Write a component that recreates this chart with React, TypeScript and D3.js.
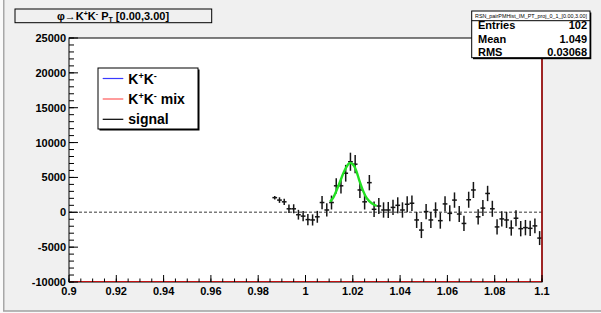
import React from "react";
import * as d3 from "d3";

// invariant mass bin centres (GeV/c^2), bin width 0.002
const mass = [
  0.987, 0.989, 0.991, 0.993, 0.995, 0.997, 0.999, 1.001, 1.003, 1.005,
  1.007, 1.009, 1.011, 1.013, 1.015, 1.017, 1.019, 1.021, 1.023, 1.025,
  1.027, 1.029, 1.031, 1.033, 1.035, 1.037, 1.039, 1.041, 1.043, 1.045,
  1.047, 1.049, 1.051, 1.053, 1.055, 1.057, 1.059, 1.061, 1.063, 1.065,
  1.067, 1.069, 1.071, 1.073, 1.075, 1.077, 1.079, 1.081, 1.083, 1.085,
  1.087, 1.089, 1.091, 1.093, 1.095, 1.097, 1.099,
];

// signal = same-event minus mixed-event
const signal = [
  2100, 1750, 1500, 500, 500, -350, -550, -1050, -1100, -650,
  1400, 330, 1400, 3800, 3800, 5600, 7250, 6900, 3200, 1500,
  4250, 430, 900, 330, 330, 700, 1000, 330, 1150, 1300,
  -1100, -2550, 100, -1100, 330, -1200, 1200, -150, 1750, -250,
  -1600, 1800, 3200, -650, 600, 2700, 500, -2100, -950, -1100,
  -2250, -850, -2350, -2200, -2300, -1950, -3700,
];

const signalErr = [
  250, 400, 450, 600, 650, 700, 750, 800, 800, 850,
  950, 950, 1000, 1100, 1100, 1200, 1300, 1300, 1150, 1100,
  1100, 1100, 1150, 1100, 1150, 1100, 1150, 1100, 1150, 1100,
  1150, 1150, 1100, 1150, 1100, 1150, 1100, 1150, 1100, 1150,
  1100, 1150, 1150, 1100, 1150, 1100, 1150, 1100, 1100, 1150,
  1100, 1150, 1100, 1100, 1100, 1050, 1000,
];

// fitted peak, sampled along the green curve
const fitMass = [
  1.0104, 1.0118, 1.0132, 1.0146, 1.016, 1.0174, 1.0185, 1.0195,
  1.0205, 1.0216, 1.0227, 1.0242, 1.0259, 1.028, 1.0301,
];
const fitValue = [
  1520, 2150, 3200, 4390, 5590, 6540, 7030, 7030,
  6680, 5820, 4630, 3200, 2010, 1290, 900,
];

const xTicks = [0.9, 0.92, 0.94, 0.96, 0.98, 1, 1.02, 1.04, 1.06, 1.08, 1.1];
const xTickLabels = ["0.9", "0.92", "0.94", "0.96", "0.98", "1", "1.02", "1.04", "1.06", "1.08", "1.1"];
const yTicks = [-10000, -5000, 0, 5000, 10000, 15000, 20000, 25000];
const yTickLabels = ["-10000", "-5000", "0", "5000", "10000", "15000", "20000", "25000"];

const legendLabels = ["mix", "signal"];
const statsNames = ["Entries", "Mean", "RMS"];
const statsValues = ["102", "1.049", "0.03068"];

const W = 601;
const H = 313;
const left = 69;
const right = 542;
const top = 38;
const bottom = 282;
const font = "'Liberation Sans', Arial, Helvetica, sans-serif";

export default function App() {
  const x = d3.scaleLinear().domain([0.9, 1.1]).range([left, right]);
  const y = d3.scaleLinear().domain([-10000, 25000]).range([bottom, top]);
  const halfBin = 0.001;

  const fitLine = d3
    .line<number>()
    .x((d, i) => x(fitMass[i]))
    .y((d) => y(d))
    .curve(d3.curveCatmullRom);

  const xMinor = x.ticks(40);
  const yMinor = y.ticks(35);

  const sup = { fontSize: 9 };

  return (
    <svg
      width={W}
      height={H}
      style={{ position: "fixed", left: 0, top: 0, display: "block" }}
      fontFamily={font}
    >
      {/* canvas */}
      <rect x={0} y={0} width={W} height={H} fill="#fafafa" />
      <rect x={4} y={0} width={W - 4} height={311} fill="#f0f0f0" />
      <line x1={3.75} x2={3.75} y1={0} y2={311} stroke="#a8a8a8" strokeWidth={1.5} />
      <line x1={3} x2={W} y1={311} y2={311} stroke="#a0a0a0" strokeWidth={1.5} />

      {/* frame */}
      <rect x={left} y={top} width={right - left} height={bottom - top} fill="#fff" />

      {/* zero line */}
      <line
        x1={left}
        x2={right}
        y1={y(0)}
        y2={y(0)}
        stroke="#7a7a7a"
        strokeWidth={1.4}
        strokeDasharray="3,2"
      />

      {/* signal points with errors */}
      <g stroke="#151515" strokeWidth={1.5}>
        {signal.map((v, i) => (
          <g key={i}>
            <line
              x1={x(mass[i])}
              x2={x(mass[i])}
              y1={y(v - signalErr[i])}
              y2={y(v + signalErr[i])}
            />
            <line
              x1={x(mass[i] - halfBin)}
              x2={x(mass[i] + halfBin)}
              y1={y(v)}
              y2={y(v)}
            />
          </g>
        ))}
      </g>

      {/* fit */}
      <path d={fitLine(fitValue) || ""} fill="none" stroke="#22e022" strokeWidth={2.4} />

      {/* frame border */}
      <rect
        x={left}
        y={top}
        width={right - left}
        height={bottom - top}
        fill="none"
        stroke="#000"
        strokeWidth={1}
      />

      {/* mixed histogram edge */}
      <line x1={left} x2={right} y1={bottom - 0.5} y2={bottom - 0.5} stroke="#c01010" strokeWidth={1} />
      <line x1={x(1.1)} x2={x(1.1)} y1={top} y2={bottom} stroke="#a81010" strokeWidth={1.6} />

      {/* x axis ticks */}
      <g stroke="#000" strokeWidth={1}>
        {xMinor.map((t, i) => (
          <line key={"xm" + i} x1={x(t)} x2={x(t)} y1={bottom} y2={bottom - 3.5} />
        ))}
        {xTicks.map((t, i) => (
          <line key={"xM" + i} x1={x(t)} x2={x(t)} y1={bottom} y2={bottom - 7} />
        ))}
        {yMinor.map((t, i) => (
          <line key={"ym" + i} x1={left} x2={left + 5} y1={y(t)} y2={y(t)} />
        ))}
        {yTicks.map((t, i) => (
          <line key={"yM" + i} x1={left} x2={left + 9} y1={y(t)} y2={y(t)} />
        ))}
      </g>

      <g fontSize={11} fontWeight="bold" fill="#000">
        {xTicks.map((t, i) => (
          <text key={"xl" + i} x={x(t)} y={295} textAnchor="middle">
            {xTickLabels[i]}
          </text>
        ))}
        {yTicks.map((t, i) => (
          <text key={"yl" + i} x={66} y={y(t) + 4} textAnchor="end">
            {yTickLabels[i]}
          </text>
        ))}
      </g>

      {/* legend */}
      <rect x={99.5} y={69.5} width={100} height={61} fill="#000" />
      <rect x={98} y={68} width={100} height={61} fill="#fff" stroke="#000" strokeWidth={1} />
      <g fontSize={14} fontWeight="bold">
        <line x1={102.7} x2={123.3} y1={78.5} y2={78.5} stroke="#3a3aff" strokeWidth={1.2} />
        <text x={128.3} y={83.5}>
          K<tspan {...sup} dy={-5}>+</tspan>
          <tspan dy={5}>K</tspan>
          <tspan {...sup} dy={-5}>-</tspan>
        </text>
        <line x1={102.7} x2={123.3} y1={99} y2={99} stroke="#ff5a5a" strokeWidth={1.2} />
        <text x={128.3} y={104}>
          K<tspan {...sup} dy={-5}>+</tspan>
          <tspan dy={5}>K</tspan>
          <tspan {...sup} dy={-5}>-</tspan>
          <tspan dy={5}>{" " + legendLabels[0]}</tspan>
        </text>
        <line x1={102.7} x2={123.3} y1={119.3} y2={119.3} stroke="#000" strokeWidth={1.2} />
        <text x={128.3} y={124}>
          {legendLabels[1]}
        </text>
      </g>

      {/* stats box */}
      <rect x={473} y={12.5} width={118.3} height={46.7} fill="#000" />
      <rect x={471.7} y={11} width={118.3} height={46.7} fill="#fff" stroke="#000" strokeWidth={1} />
      <line x1={471.7} x2={590} y1={20.7} y2={20.7} stroke="#000" strokeWidth={1} />
      <text x={531} y={18} fontSize={5} textAnchor="middle" textLength={112} lengthAdjust="spacingAndGlyphs">
        RSN_pairPMHist_IM_PT_proj_0_1_[0.00,3.00]
      </text>
      <g fontSize={11} fontWeight="bold">
        {statsNames.map((n, i) => (
          <g key={n}>
            <text x={478} y={29 + i * 13.5}>
              {n}
            </text>
            <text x={587} y={29 + i * 13.5} textAnchor="end">
              {statsValues[i]}
            </text>
          </g>
        ))}
      </g>

      {/* title */}
      <rect x={15} y={9} width={196.7} height={13.7} fill="#f0f0f0" stroke="#000" strokeWidth={1} />
      <text x={113} y={19.6} fontSize={11} fontWeight="bold" textAnchor="middle">
        φ→K<tspan fontSize={7} dy={-4}>+</tspan>
        <tspan dy={4}>K</tspan>
        <tspan fontSize={7} dy={-4}>-</tspan>
        <tspan dy={4}> P</tspan>
        <tspan fontSize={7} dy={2.5}>T</tspan>
        <tspan dy={-2.5}> [0.00,3.00]</tspan>
      </text>
    </svg>
  );
}
